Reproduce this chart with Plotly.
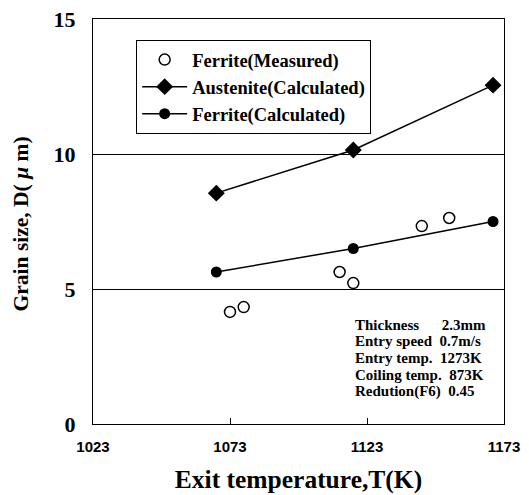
import plotly.graph_objects as go

# Data
aus_x = [1068, 1118, 1169]
aus_y = [8.55, 10.15, 12.55]
fer_calc_x = [1068, 1118, 1169]
fer_calc_y = [5.63, 6.5, 7.5]
fer_meas_x = [1073, 1078, 1113, 1118, 1143, 1153]
fer_meas_y = [4.15, 4.33, 5.63, 5.22, 7.33, 7.63]
x_ticks = [1023, 1073, 1123, 1173]
y_ticks = [0, 5, 10, 15]
cond_lines = ["Thickness&nbsp;&nbsp;&nbsp;&nbsp;&nbsp;&nbsp;2.3mm", "Entry speed&nbsp;&nbsp;0.7m/s",
              "Entry temp.&nbsp;&nbsp;1273K", "Coiling temp.&nbsp;&nbsp;873K", "Redution(F6)&nbsp;&nbsp;0.45"]

serif = "Liberation Serif"

fig = go.Figure()
fig.add_trace(go.Scatter(x=fer_meas_x, y=fer_meas_y, mode="markers", name="<b>Ferrite(Measured)</b>",
                         marker=dict(symbol="circle-open", size=11, color="black", line=dict(width=1.5))))
fig.add_trace(go.Scatter(x=aus_x, y=aus_y, mode="lines+markers", name="<b>Austenite(Calculated)</b>",
                         line=dict(color="black", width=1.5),
                         marker=dict(symbol="diamond", size=13, color="black")))
fig.add_trace(go.Scatter(x=fer_calc_x, y=fer_calc_y, mode="lines+markers", name="<b>Ferrite(Calculated)</b>",
                         line=dict(color="black", width=1.5),
                         marker=dict(symbol="circle", size=11, color="black")))

fig.update_layout(
    width=521, height=487,
    margin=dict(l=85, r=25, t=11, b=71, autoexpand=False),
    paper_bgcolor="white", plot_bgcolor="white",
    showlegend=True,
    legend=dict(x=0.105, y=0.948, xanchor="left", yanchor="top",
                bordercolor="black", borderwidth=1, bgcolor="white",
                font=dict(family=serif, size=18.5, color="black"),
                itemwidth=45, tracegroupgap=0),
    xaxis=dict(range=[1023, 1173], tickvals=x_ticks, ticktext=["<b>%d</b>" % v for v in x_ticks],
               showgrid=False, zeroline=False, showline=True, linecolor="black", linewidth=1,
               mirror=True, ticks="inside", ticklen=6, tickcolor="black", automargin=False,
               ticklabelstandoff=9, ticklabeloverflow="allow",
               tickfont=dict(family="Liberation Sans", size=15, color="black"),
               title=dict(text="<b>Exit temperature,T(K)</b>", font=dict(family=serif, size=25.5, color="black"),
                          standoff=16)),
    yaxis=dict(range=[0, 15], tickvals=y_ticks, ticktext=["<b>%d</b>" % v for v in y_ticks],
               showgrid=True, gridcolor="black", gridwidth=1, zeroline=False, automargin=False,
               showline=True, linecolor="black", linewidth=1, mirror=True, ticks="",
               ticklabelstandoff=12, ticklabeloverflow="allow",
               tickfont=dict(family=serif, size=22, color="black")),
)

# y-axis title as a rotated annotation for exact placement
fig.add_annotation(
    x=-0.175, y=0.493, xref="paper", yref="paper", xanchor="center", yanchor="middle",
    showarrow=False, textangle=-90, text="<b>Grain size, D( <i>μ</i> m)</b>",
    font=dict(family=serif, size=21.5, color="black"),
)

for i, line in enumerate(cond_lines):
    fig.add_annotation(
        x=0.632, y=0.245 - i * 0.0412, xref="paper", yref="paper", xanchor="left", yanchor="middle",
        showarrow=False, align="left", text="<b>" + line + "</b>",
        font=dict(family=serif, size=15, color="black"),
    )

fig.write_html("out.html")
